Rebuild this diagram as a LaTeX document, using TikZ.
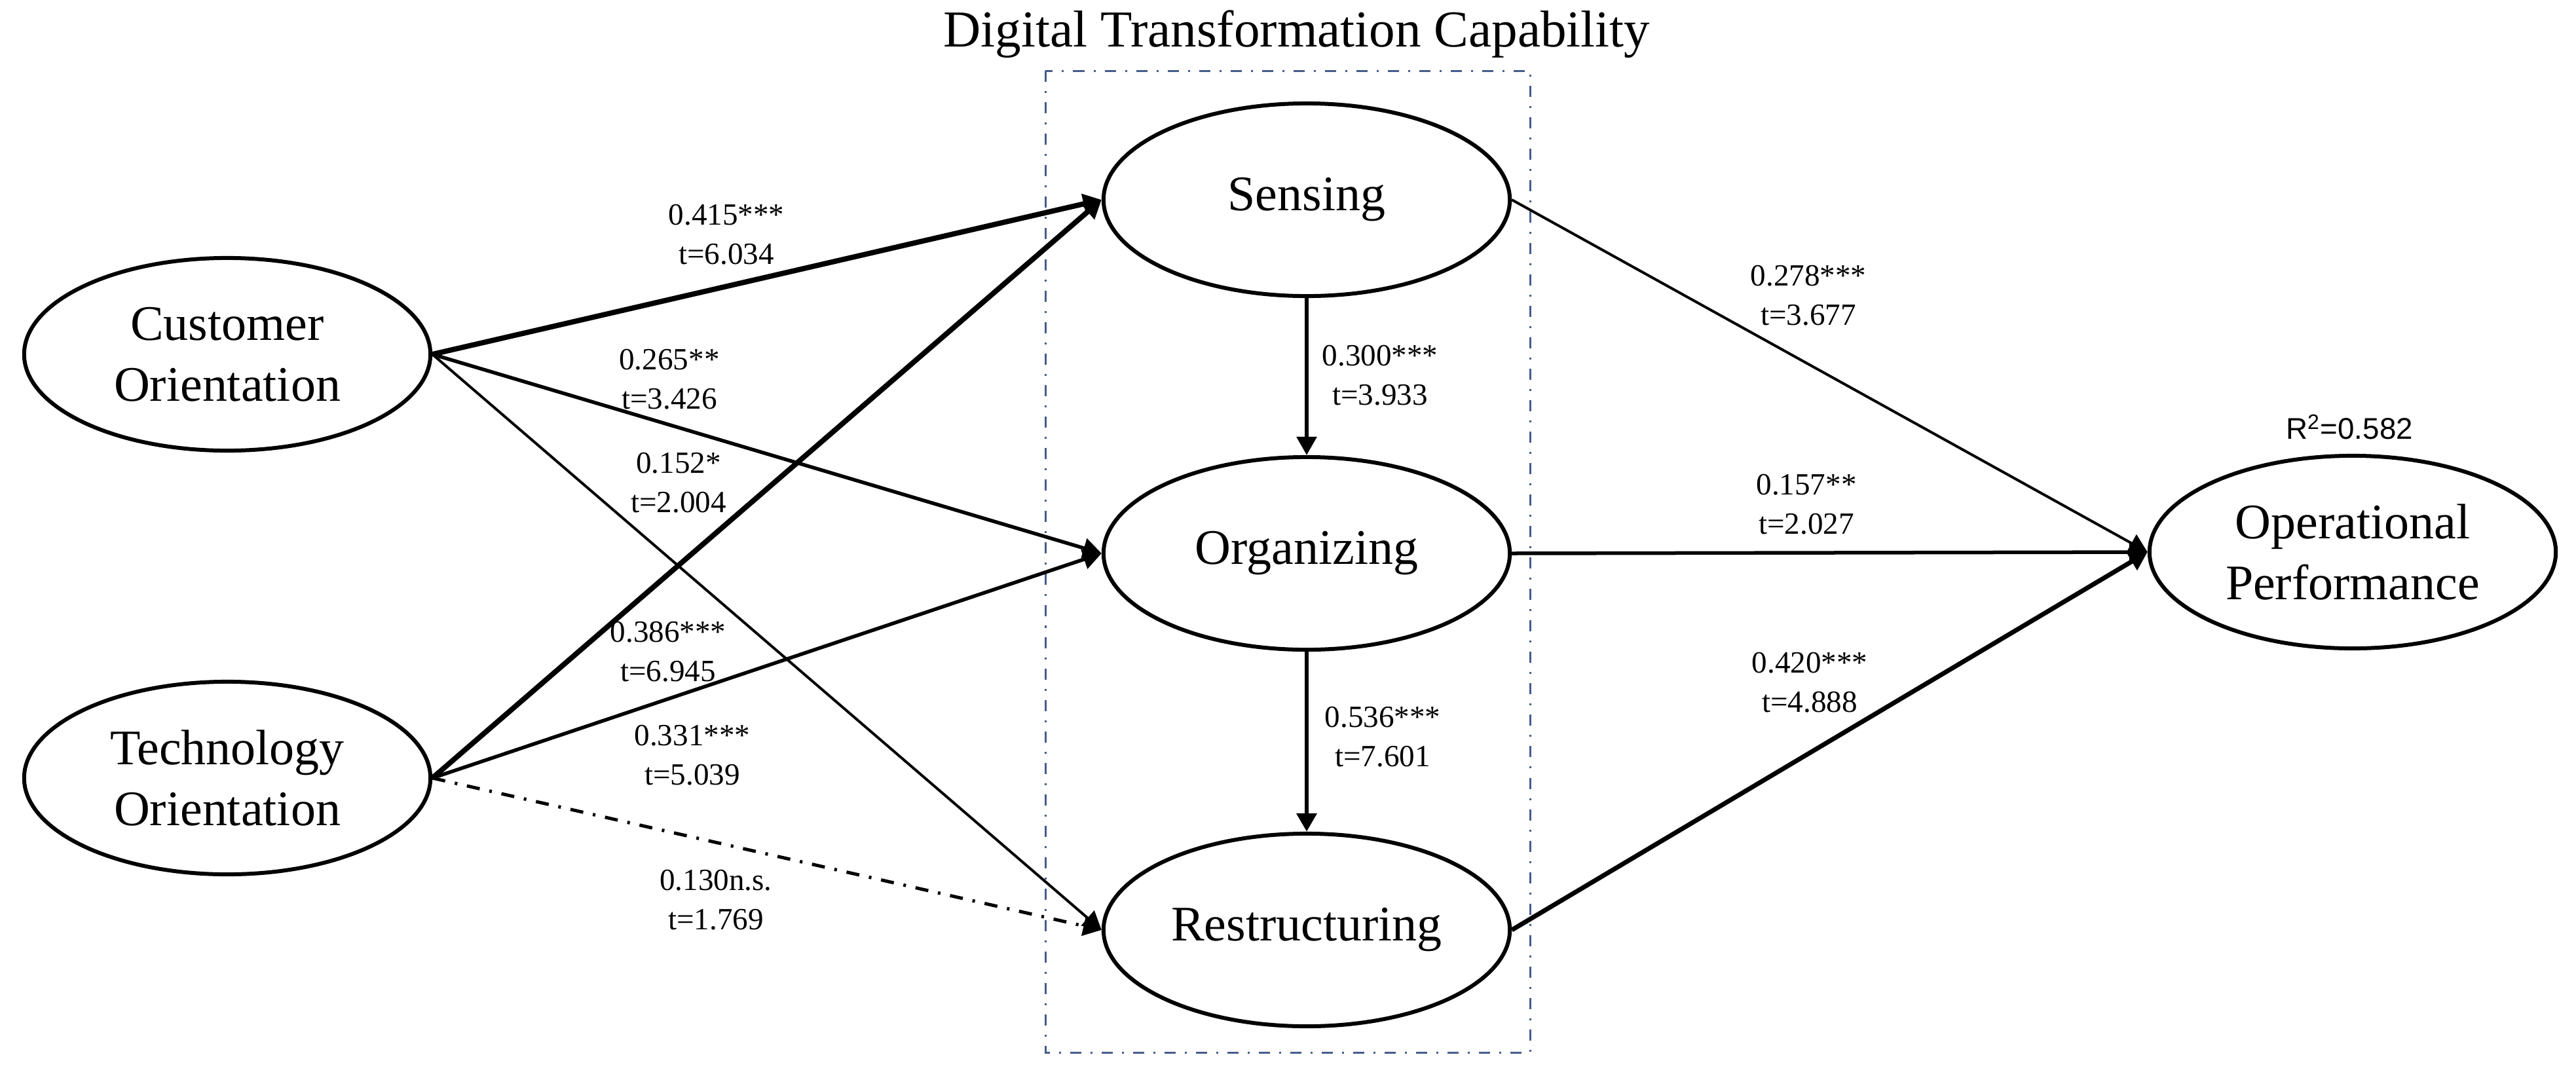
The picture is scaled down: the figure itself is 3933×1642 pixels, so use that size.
\documentclass[tikz,border=0pt]{standalone}
\usepackage{fontspec}
\setmainfont{Liberation Serif}
\newfontfamily\rsans{Liberation Sans}
\usetikzlibrary{arrows.meta,shapes.geometric}
\definecolor{boxblue}{RGB}{70,92,140}
\begin{document}
\begin{tikzpicture}[x=0.01cm,y=-0.01cm,
  latent/.style={ellipse, draw, line width=0.06cm, minimum width=6.2cm, minimum height=2.94cm,
    inner sep=0pt, align=center, font=\fontsize{21.6}{26.5}\selectfont},
  coef/.style={align=center, inner sep=0pt, font=\fontsize{13.4}{17}\selectfont},
  arr/.style={-{Triangle[length=0.28cm,width=0.30cm]}},
  thickarr/.style={arr, line width=0.08cm},
  midarr/.style={arr, line width=0.055cm},
  thinarr/.style={arr, line width=0.04cm},
  nsarr/.style={arr, line width=0.05cm, dash pattern=on 0.20cm off 0.15cm on 0.04cm off 0.15cm},
  groupbox/.style={draw=boxblue, line width=0.03cm, dash pattern=on 0.17cm off 0.14cm on 0.03cm off 0.14cm}
]
\useasboundingbox[fill=white] (0,0) rectangle (3933,1642);

% group box and title
\draw[groupbox] (1596,108) rectangle (2336,1607);
\node[inner sep=0pt, font=\fontsize{22.5}{27}\selectfont] (title) at (1980,52) {Digital Transformation Capability};

% latent variables
\node[latent] (co) at (347,541) {Customer\\Orientation};
\node[latent] (to) at (347,1188) {Technology\\Orientation};
\node[latent] (se) at (1995,305) {Sensing};
\node[latent] (or) at (1995,845) {Organizing};
\node[latent] (re) at (1995,1420) {Restructuring};
\node[latent] (op) at (3592,843) {Operational\\Performance};

% paths
\draw[thickarr] (co.east) -- (se.west);
\draw[midarr] (co.east) -- (or.west);
\draw[thinarr] (co.east) -- (re.west);
\draw[thickarr] (to.east) -- (se.west);
\draw[midarr] (to.east) -- (or.west);
\draw[nsarr] (to.east) -- (re.west);
\draw[arr, line width=0.06cm] (se.south) -- (or.north);
\draw[arr, line width=0.065cm] (or.south) -- (re.north);
\draw[thinarr] (se.east) -- (op.west);
\draw[midarr] (or.east) -- (op.west);
\draw[arr, line width=0.07cm] (re.east) -- (op.west);

% coefficients
\node[coef] (l415) at (1109,358) {0.415***\\t=6.034};
\node[coef] (l265) at (1022,579) {0.265**\\t=3.426};
\node[coef] (l152) at (1036,737) {0.152*\\t=2.004};
\node[coef] (l386) at (1020,995) {0.386***\\t=6.945};
\node[coef] (l331) at (1057,1153) {0.331***\\t=5.039};
\node[coef] (l130) at (1093,1374) {0.130n.s.\\t=1.769};
\node[coef] (l300) at (2107,573) {0.300***\\t=3.933};
\node[coef] (l536) at (2111,1125) {0.536***\\t=7.601};
\node[coef] (l278) at (2761,451) {0.278***\\t=3.677};
\node[coef] (l157) at (2758,770) {0.157**\\t=2.027};
\node[coef] (l420) at (2763,1042) {0.420***\\t=4.888};
\node[inner sep=0pt, font=\rsans\fontsize{13}{16}\selectfont] (r2) at (3587,652) {R\textsuperscript{2}=0.582};
\end{tikzpicture}
\end{document}
